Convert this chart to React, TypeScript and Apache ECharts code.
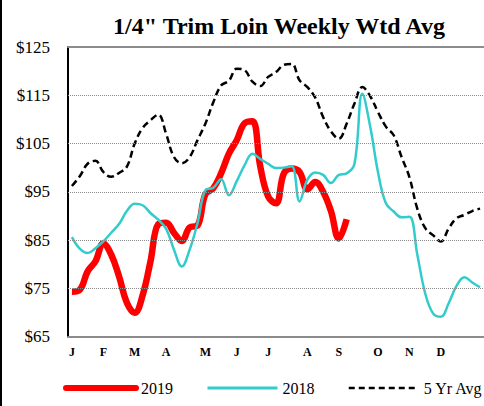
import React, { useEffect, useRef } from "react";
import * as echarts from "echarts";

// ---- data ----
const weekCount = 53;
const weeks: string[] = Array.from({ length: weekCount }, (_, i) => `W${i + 1}`);
const monthLetters = ["J", "F", "M", "A", "M", "J", "J", "A", "S", "O", "N", "D"];
const monthStartWeeks = [0, 4, 8, 12, 17, 21, 25, 30, 34, 39, 43, 47];

const y2019 = [
  74.3, 74.7, 78.5, 80.6, 84.3, 82, 77.5, 72, 69.9, 73.5,
  80.5, 88.3, 88.6, 86.5, 84.8, 87.6, 88, 94.5, 95.7, 98.8,
  102.9, 105.7, 109.2, 109.6, 100.2, 94, 92.6, 98.8, 99.8, 99.1,
  95.5, 97, 95, 91, 85.3, 89.3,
];
const y2018 = [
  85.6, 83.2, 82.3, 83.3, 84.7, 86.5, 88.3, 91, 92.5, 92.2,
  90.6, 89.2, 87.3, 83, 79.5, 83, 88.5, 95.3, 95.8, 97.6,
  94.3, 97.2, 100.5, 102.9, 101.8, 100.8, 99.9, 100, 100.3, 93,
  97.5, 99, 98.5, 96.8, 98.5, 98.8, 100.8, 115.3, 108.5, 99,
  92.6, 90.9, 89.7, 89.8, 82, 74, 69.8, 69.1, 71.9, 75.5,
  77.3, 76.2, 75.2,
];
const fiveYrAvg = [
  96.2, 98.2, 100.8, 101.4, 99.1, 98.1, 98.9, 100.2, 105, 108.2,
  109.8, 111, 107, 102.2, 100.9, 102.2, 105.7, 109.1, 113.5, 117,
  118, 120.5, 120.2, 117.8, 116.9, 118.8, 119.8, 121.3, 121.5, 118.1,
  116.7, 114.5, 110.5, 107.5, 106, 109.1, 113.3, 116.7, 114.8, 111.5,
  108.5, 106.7, 102.2, 98, 91.5, 87.5, 86, 84.7, 87.4, 89.5,
  90.2, 91, 91.5,
];
const yMin = 65;
const yMax = 125;
const yLabelStep = 10;
const gridValues = [75, 85, 95, 105, 115];

const serif = "'Times New Roman', 'Liberation Serif', 'DejaVu Serif', serif";

export default function App() {
  const ref = useRef<HTMLDivElement>(null);
  useEffect(() => {
    if (!ref.current) return;
    const chart = echarts.init(ref.current, undefined, { renderer: "svg" });
    chart.setOption({
      animation: false,
      backgroundColor: "#ffffff",
      title: {
        text: '1/4" Trim Loin Weekly Wtd Avg',
        left: 274,
        top: 9,
        textAlign: "center",
        textStyle: { fontFamily: serif, fontWeight: "bold", fontSize: 24, color: "#000" },
      },
      legend: {
        left: 63,
        top: 380,
        width: 440,
        padding: 0,
        itemWidth: 70,
        itemHeight: 14,
        itemGap: 33,
        itemStyle: { opacity: 0 },
        textStyle: { fontFamily: serif, fontSize: 16, color: "#000" },
        data: [
          { name: "2019", lineStyle: { width: 6, cap: "round", color: "#ff0000" } },
          { name: "2018", lineStyle: { width: 3, color: "#33cccc" } },
          { name: "5 Yr Avg", lineStyle: { width: 2.5, type: [6, 4], color: "#000000" } },
        ],
      },
      grid: { left: 68, right: -8, top: 47, bottom: 69.5, containLabel: false },
      xAxis: [
        {
          type: "category",
          data: weeks,
          boundaryGap: true,
          axisLine: { show: true, lineStyle: { color: "#8c8c8c", width: 2 } },
          axisTick: { show: false },
          splitLine: { show: false },
          axisLabel: {
            interval: 0,
            margin: 9,
            fontFamily: serif,
            fontWeight: "bold",
            fontSize: 12,
            color: "#000",
            formatter: (_v: string, idx: number) => {
              const k = monthStartWeeks.indexOf(idx);
              return k >= 0 ? monthLetters[k] : "";
            },
          },
        },
        {
          type: "category",
          position: "top",
          data: weeks,
          axisLine: { show: true, lineStyle: { color: "#8c8c8c", width: 2 } },
          axisTick: { show: false },
          axisLabel: { show: false },
          splitLine: { show: false },
        },
      ],
      yAxis: {
        type: "value",
        min: yMin,
        max: yMax,
        interval: 5,
        axisLine: { show: true, lineStyle: { color: "#000", width: 2 } },
        axisTick: { show: false },
        splitLine: { show: false },
        axisLabel: {
          margin: 18,
          fontFamily: serif,
          fontSize: 17,
          color: "#000",
          formatter: (v: number) => ((v - yMin) % yLabelStep === 0 ? "$" + v : ""),
        },
      },
      series: [
        {
          name: "grid",
          type: "line",
          data: [],
          silent: true,
          z: 1,
          markLine: {
            silent: true,
            symbol: ["none", "none"],
            label: { show: false },
            lineStyle: { color: "#8a8a8a", type: "dotted", width: 1 },
            data: gridValues.map((v) => ({ yAxis: v })),
          },
        },
        {
          name: "2019",
          type: "line",
          data: y2019,
          smooth: 0.4,
          symbol: "none",
          z: 2,
          color: "#ff0000",
          lineStyle: { color: "#ff0000", width: 6.5 },
        },
        {
          name: "2018",
          type: "line",
          data: y2018,
          smooth: 0.4,
          symbol: "none",
          z: 3,
          color: "#33cccc",
          lineStyle: { color: "#33cccc", width: 2.5 },
        },
        {
          name: "5 Yr Avg",
          type: "line",
          data: fiveYrAvg,
          smooth: 0.4,
          symbol: "none",
          z: 4,
          color: "#000000",
          lineStyle: { color: "#000000", width: 2.5, type: [7, 4] },
        },
      ],
      graphic: [
        {
          type: "rect",
          left: 0,
          top: 0,
          shape: { x: 0, y: 0, width: 2, height: 406 },
          style: { fill: "#000" },
          silent: true,
        },
      ],
    });
    return () => chart.dispose();
  }, []);
  return (
    <div
      ref={ref}
      style={{ position: "fixed", left: 0, top: 0, width: 484, height: 406, background: "#fff" }}
    />
  );
}
